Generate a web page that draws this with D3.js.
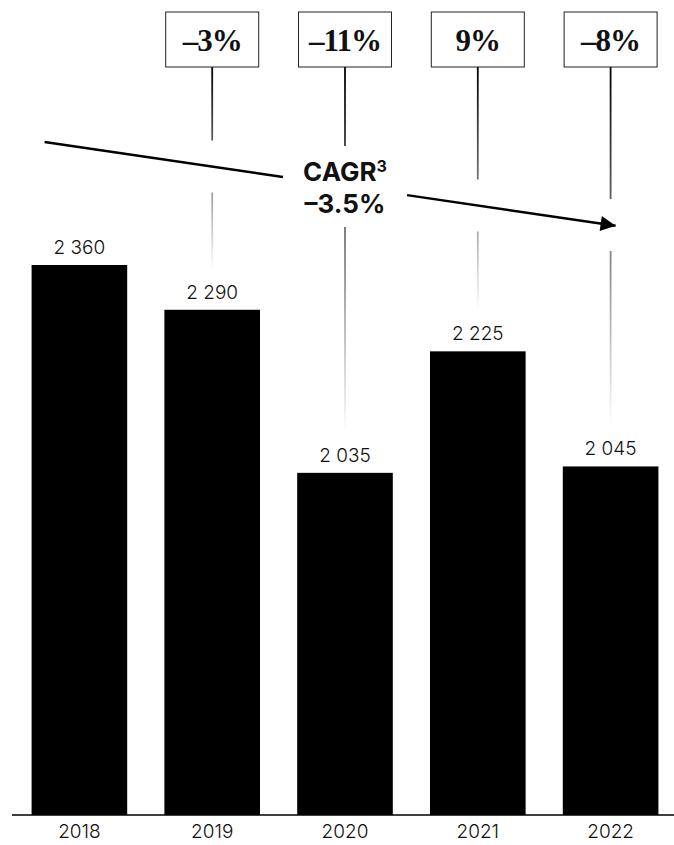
<!DOCTYPE html>
<html>
<head>
<meta charset="utf-8">
<script src="https://cdn.jsdelivr.net/npm/d3@7"></script>
<style>
  body { margin: 0; background: #fff; }
  svg { display: block; }
</style>
</head>
<body>
<script>
// Chart data.
const years = ["2018", "2019", "2020", "2021", "2022"]
const values = [2360, 2290, 2035, 2225, 2045]
// Year-on-year change, for 2019 to 2022.
const changeYears = ["2019", "2020", "2021", "2022"]
const changes = ["\u20133%", "\u201311%", "9%", "\u20138%"]
const cagrTitle = "CAGR"
const cagrValue = "\u20133.5%"

function main() {
    const width = 674
    const height = 845
    const baseline = 815

    var svg = d3.select("body").append("svg")
        .attr("width", width)
        .attr("height", height)

    // Scales.
    var x = d3.scaleBand()
        .domain(years)
        .range([13, 677])
        .paddingInner(0.28)
        .paddingOuter(0.14)

    var y = d3.scaleLinear()
        .domain([1500, 2360])
        .range([baseline, 265])

    const cx = d => x(d) + x.bandwidth() / 2
    const valueOf = yr => values[years.indexOf(yr)]
    const fmt = v => d3.format(",")(v).replace(",", " ")

    // Bars.
    svg.selectAll("rect.bar")
        .data(years)
        .enter().append("rect")
        .attr("class", "bar")
        .attr("x", d => x(d))
        .attr("y", d => y(valueOf(d)))
        .attr("width", x.bandwidth())
        .attr("height", d => baseline - y(valueOf(d)))
        .attr("fill", "#000")

    // Value labels.
    svg.selectAll("text.val")
        .data(years)
        .enter().append("text")
        .attr("class", "val")
        .attr("x", d => cx(d))
        .attr("y", d => y(valueOf(d)) - 11)
        .attr("text-anchor", "middle")
        .style("font-family", "Inter, sans-serif")
        .style("font-weight", "300")
        .style("font-size", "19px")
        .attr("fill", "#111")
        .text(d => fmt(valueOf(d)))

    // x axis: plain baseline + year labels.
    var xAxis = d3.axisBottom(x).tickSize(0).tickPadding(10)
    var ax = svg.append("g")
        .attr("transform", `translate(0, ${baseline})`)
        .call(xAxis)
    ax.select(".domain").remove()
    ax.append("line")
        .attr("x1", 12).attr("x2", width)
        .attr("stroke", "#000").attr("stroke-width", 1.5)
    ax.selectAll(".tick text")
        .style("font-family", "Inter, sans-serif")
        .style("font-weight", "300")
        .style("font-size", "19px")
        .attr("fill", "#111")

    // CAGR arrow geometry.
    const a0 = [x(years[0]) + 13, 142]
    const a1 = [cx(years[years.length - 1]) + 7, 226]
    const arrowY = xx => a0[1] + (xx - a0[0]) * (a1[1] - a0[1]) / (a1[0] - a0[0])
    const textX = cx("2020")
    const textGap = [textX - 62, textX + 62]

    var defs = svg.append("defs")
    defs.append("marker")
        .attr("id", "head")
        .attr("viewBox", "0 0 10 10")
        .attr("refX", 10).attr("refY", 5)
        .attr("markerWidth", 7).attr("markerHeight", 6)
        .attr("markerUnits", "strokeWidth")
        .attr("orient", "auto")
        .append("path")
        .attr("d", "M0,0 L10,5 L0,10 Z")
        .attr("fill", "#000")

    svg.append("line")
        .attr("x1", a0[0]).attr("y1", a0[1])
        .attr("x2", textGap[0]).attr("y2", arrowY(textGap[0]))
        .attr("stroke", "#000").attr("stroke-width", 2.5)
    svg.append("line")
        .attr("x1", textGap[1]).attr("y1", arrowY(textGap[1]))
        .attr("x2", a1[0] - 2).attr("y2", arrowY(a1[0] - 2))
        .attr("stroke", "#000").attr("stroke-width", 2.5)
        .attr("marker-end", "url(#head)")

    var cagr = svg.append("text")
        .attr("x", textX)
        .attr("text-anchor", "middle")
        .style("font-family", "Inter, sans-serif")
        .style("font-weight", "700")
        .style("font-size", "26px")
        .attr("fill", "#111")
    var t1 = cagr.append("tspan").attr("x", textX).attr("y", 181)
    t1.append("tspan").text(cagrTitle)
    t1.append("tspan").attr("dy", -9).style("font-size", "16px").text("3")
    cagr.append("tspan").attr("x", textX).attr("y", 213).text(cagrValue)

    // Change boxes with fading connector lines.
    const boxW = 93, boxH = 55, boxTop = 12
    const lineTop = boxTop + boxH

    changeYears.forEach(function (yr, i) {
        var c = cx(yr)
        var lineEnd = y(valueOf(yr)) - 40

        var grad = defs.append("linearGradient")
            .attr("id", "fade" + i)
            .attr("gradientUnits", "userSpaceOnUse")
            .attr("x1", c).attr("x2", c)
            .attr("y1", lineTop).attr("y2", lineEnd)
        grad.append("stop").attr("offset", 0).attr("stop-color", "#000")
        grad.append("stop").attr("offset", 1).attr("stop-color", "#fff")

        var gap
        if (c > textGap[0] && c < textGap[1]) gap = [146, 227]
        else gap = [arrowY(c) - 26, arrowY(c) + 26]

        svg.append("line")
            .attr("x1", c).attr("x2", c)
            .attr("y1", lineTop).attr("y2", gap[0])
            .attr("stroke", `url(#fade${i})`).attr("stroke-width", 1.8)
        svg.append("line")
            .attr("x1", c).attr("x2", c)
            .attr("y1", gap[1]).attr("y2", lineEnd)
            .attr("stroke", `url(#fade${i})`).attr("stroke-width", 1.8)

        svg.append("rect")
            .attr("x", c - boxW / 2).attr("y", boxTop)
            .attr("width", boxW).attr("height", boxH)
            .attr("fill", "#fff")
            .attr("stroke", "#222").attr("stroke-width", 1)

        svg.append("text")
            .attr("x", c).attr("y", boxTop + boxH / 2 + 11)
            .attr("text-anchor", "middle")
            .style("font-family", "'Liberation Serif', serif")
            .style("font-weight", "700")
            .style("font-size", "31px")
            .style("letter-spacing", "-1px")
            .attr("fill", "#111")
            .text(changes[i])
    })
}

main()
</script>
</body>
</html>
